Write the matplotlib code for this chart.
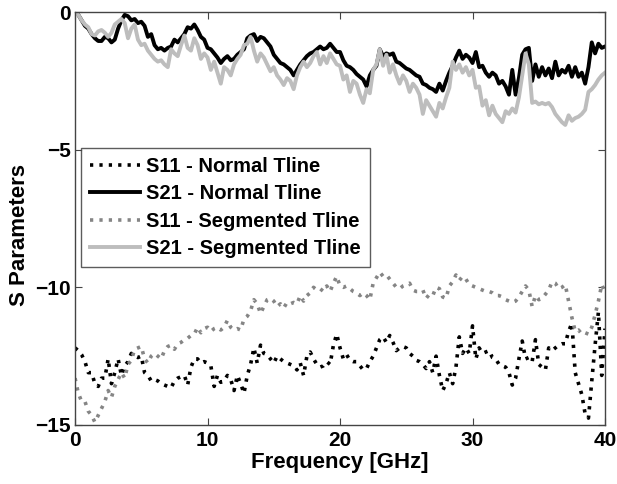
import numpy as np
import matplotlib
matplotlib.use('Agg')
import matplotlib.pyplot as plt

plt.rcParams['font.family'] = ['Liberation Sans', 'DejaVu Sans']
plt.rcParams['font.weight'] = 'bold'

# frequency grid, 0.25 GHz step
freq = np.arange(161) * 0.25

s21_normal = [
    0, -0.1, -0.3, -0.5, -0.6, -0.8, -0.95, -1.05, -1.05,
    -0.9, -0.95, -1.1, -1.0, -0.6, -0.3, -0.1, -0.15,
    -0.3, -0.25, -0.4, -0.35, -0.5, -0.9, -0.8, -1.2,
    -1.35, -1.3, -1.4, -1.3, -1.25, -1.0, -1.1, -0.95,
    -0.8, -0.55, -0.6, -0.45, -0.65, -0.9, -1.0, -1.3,
    -1.35, -1.5, -1.65, -1.85, -1.7, -1.6, -1.75, -1.7,
    -1.55, -1.45, -1.35, -0.95, -0.85, -0.8, -1.05, -0.9,
    -0.95, -1.1, -1.25, -1.55, -1.7, -1.85, -1.9, -2.0,
    -2.1, -2.3, -2.1, -1.9, -1.75, -1.6, -1.5, -1.45,
    -1.35, -1.25, -1.35, -1.3, -1.15, -1.3, -1.45, -1.45,
    -1.75, -1.95, -2.0, -2.1, -2.25, -2.35, -2.45, -2.7,
    -2.3, -2.1, -1.95, -1.35, -1.6, -1.5, -1.55, -1.5,
    -1.8, -1.85, -1.95, -2.05, -2.1, -2.2, -2.3, -2.35,
    -2.6, -2.65, -2.75, -2.8, -2.9, -2.6, -2.85, -2.5,
    -2.2, -1.95, -1.65, -1.4, -1.7, -1.55, -1.65, -1.85,
    -1.45, -2.0, -1.95, -2.2, -2.35, -2.2, -2.3, -2.6,
    -2.5, -2.7, -3.0, -2.1, -3.0, -2.4, -1.55, -1.35,
    -1.3, -2.5, -1.9, -2.35, -2.0, -2.3, -2.05, -2.4,
    -1.8, -2.3, -2.1, -2.2, -1.95, -2.35, -2.0, -2.35,
    -2.2, -2.6, -2.0, -1.1, -1.5, -1.15, -1.3, -1.25,
]

s21_segmented = [
    -0.05, -0.1, -0.3, -0.45, -0.55, -0.8, -0.85, -0.7, -0.65,
    -0.75, -0.9, -0.75, -0.45, -0.35, -0.25, -0.4, -0.95,
    -0.6, -0.45, -1.0, -1.2, -1.15, -1.4, -1.55, -1.7,
    -1.8, -1.75, -1.9, -2.0, -1.35, -1.5, -1.6, -1.2,
    -0.85, -1.3, -1.4, -0.95, -1.2, -1.7, -1.5, -1.65,
    -2.1, -1.8, -2.2, -2.6, -2.0, -2.1, -2.3, -1.9,
    -1.7, -1.55, -1.2, -1.15, -0.9, -1.4, -1.8, -1.5,
    -1.65, -1.9, -2.15, -2.0, -2.3, -2.45, -2.65, -2.4,
    -2.5, -2.8, -2.3, -2.0, -1.8, -2.0, -1.85, -1.6,
    -1.45, -1.9, -1.6, -1.85, -1.5, -1.7, -1.9, -1.95,
    -2.45, -2.3, -2.9, -2.5, -2.6, -3.0, -3.3, -2.8,
    -2.95, -2.1, -1.9, -1.35, -1.95, -1.55, -2.2, -1.9,
    -2.3, -2.6, -2.3, -2.5, -2.9, -2.6, -2.75, -3.0,
    -3.7, -3.2, -3.4, -3.6, -3.8, -3.3, -3.5, -3.1,
    -2.75, -1.8, -2.1, -1.9, -2.2, -2.0, -2.3, -2.1,
    -2.75, -2.7, -3.4, -3.2, -3.75, -3.4, -3.7, -3.85,
    -4.0, -3.6, -3.7, -3.5, -3.65, -3.1, -2.3, -1.5,
    -1.9, -3.3, -3.25, -3.35, -3.3, -3.35, -3.3, -3.45,
    -3.7, -3.85, -4.0, -4.1, -3.75, -3.95, -3.85, -3.8,
    -3.7, -3.55, -2.9, -2.8, -2.65, -2.45, -2.3, -2.2,
]

s11_normal = [
    -12.2, -12.3, -12.45, -12.7, -13.1, -13.1, -13.5, -13.6, -13.3,
    -13.3, -12.6, -13.5, -13.1, -12.6, -13.2, -12.85, -12.7,
    -12.4, -12.5, -12.55, -12.5, -13.1, -13.2, -13.4, -13.35,
    -13.4, -13.5, -13.55, -13.6, -13.65, -13.4, -13.3, -13.25,
    -13.2, -13.55, -12.9, -12.6, -12.6, -12.75, -12.7, -12.75,
    -12.85, -13.6, -13.2, -13.45, -13.4, -13.2, -13.35, -13.75,
    -13.2, -13.5, -13.85, -13.2, -12.8, -12.2, -12.75, -12.1,
    -12.4, -12.45, -12.6, -12.75, -12.5, -12.6, -12.7, -12.75,
    -12.8, -12.85, -13.0, -12.75, -13.2, -12.5, -12.35, -12.6,
    -12.8, -12.9, -12.85, -12.7, -12.8, -12.1, -11.7, -12.2,
    -12.6, -12.45, -12.65, -12.7, -12.7, -12.85, -13.0, -12.95,
    -12.7, -12.5, -12.2, -11.9, -11.8, -12.0, -11.75, -12.0,
    -12.3, -12.2, -12.15, -12.2, -12.4, -12.5, -12.65, -12.7,
    -12.8, -12.95, -12.7, -13.1, -12.5, -13.2, -13.75, -13.5,
    -13.1, -13.5, -12.9, -11.8, -12.4, -12.2, -12.4, -11.4,
    -12.6, -12.2, -12.4, -12.35, -12.3, -12.55, -12.6, -12.8,
    -12.85, -12.9, -13.1, -13.55, -13.3, -12.6, -11.95, -12.6,
    -12.55, -12.7, -11.9, -12.8, -12.9, -13.0, -12.2, -12.3,
    -12.2, -12.1, -12.05, -12.05, -11.6, -11.3, -13.1, -13.5,
    -13.9, -14.6, -14.75, -13.4, -12.1, -10.9, -13.2, -11.5,
]

s11_segmented = [
    -13.3, -13.85, -14.15, -14.15, -14.5, -14.65, -14.9, -14.65, -14.4,
    -14.15, -13.75, -14.0, -13.6, -13.35, -13.1, -13.3, -12.8,
    -12.65, -12.25, -12.2, -12.15, -12.6, -12.75, -12.5, -12.4,
    -12.5, -12.6, -12.3, -12.15, -12.1, -12.25, -12.05, -12.0,
    -11.9, -11.85, -11.75, -11.7, -11.45, -11.65, -11.5, -11.45,
    -11.6, -11.5, -11.45, -11.55, -11.45, -11.2, -11.45, -11.55,
    -11.5, -11.55, -11.15, -11.05, -10.85, -10.45, -10.6, -10.95,
    -10.7, -10.45, -10.4, -10.5, -10.7, -10.6, -10.75, -10.55,
    -10.6, -10.55, -10.6, -10.3, -10.5, -10.3, -10.2, -10.0,
    -10.1, -10.05, -10.15, -9.95, -10.15, -9.85, -9.6, -9.95,
    -10.0, -9.95, -10.05, -10.15, -10.2, -10.3, -10.2, -10.3,
    -10.45, -9.85, -9.65, -9.45, -9.6, -9.55, -9.7, -9.85,
    -10.0, -10.05, -9.95, -9.9, -9.85, -10.1, -10.15, -10.15,
    -10.1, -10.4, -10.25, -10.3, -10.0, -10.05, -10.35, -10.4,
    -9.95, -9.8, -9.55, -9.75, -9.6, -9.7, -9.9, -9.95,
    -10.0, -10.05, -10.1, -10.15, -10.15, -10.2, -10.3, -10.3,
    -10.35, -10.45, -10.5, -10.55, -10.5, -10.35, -10.15, -9.95,
    -10.1, -10.7, -10.3, -10.45, -10.4, -10.25, -10.1, -9.8,
    -9.85, -10.05, -10.0, -9.9, -10.5, -11.1, -11.6, -11.55,
    -11.7, -11.65, -11.7, -11.45, -11.0, -10.5, -9.9, -10.2,
]

labels = ['S11 - Normal Tline', 'S21 - Normal Tline',
          'S11 - Segmented Tline', 'S21 - Segmented Tline']

dots = (0.9, 1.7)

fig = plt.figure(figsize=(6.17, 4.84), dpi=100)
ax = fig.add_axes([0.1216, 0.122, 0.859, 0.853])

ax.plot(freq, s11_normal, color='black', lw=2.6, dashes=dots, label=labels[0])
ax.plot(freq, s21_normal, '-', color='black', lw=2.8, label=labels[1])
ax.plot(freq, s11_segmented, color='#858585', lw=2.6, dashes=dots, label=labels[2])
ax.plot(freq, s21_segmented, '-', color='#bdbdbd', lw=2.8, label=labels[3])

ax.set_xlim(0, 40)
ax.set_ylim(-15, 0)
ax.set_xticks([0, 10, 20, 30, 40])
ax.set_yticks([0, -5, -10, -15])
ax.tick_params(direction='in', top=True, right=True, labelsize=15, length=5,
               width=0.8, color='#444444')
ax.tick_params(axis='x', pad=4)
ax.tick_params(axis='y', pad=3)
for lab in ax.get_xticklabels() + ax.get_yticklabels():
    lab.set_fontweight('bold')
for sp in ax.spines.values():
    sp.set_color('#444444')
    sp.set_linewidth(1.0)

ax.set_xlabel('Frequency [GHz]', fontsize=16, fontweight='bold', labelpad=2)
ax.set_ylabel('S Parameters', fontsize=16, fontweight='bold')
ax.yaxis.set_label_coords(-0.085, 0.46)

leg = ax.legend(loc='upper left', bbox_to_anchor=(0.011, 0.671), fontsize=14.5,
                frameon=True, fancybox=False, handlelength=2.5,
                handletextpad=0.3, borderpad=0.45, labelspacing=0.42,
                borderaxespad=0)
leg.get_frame().set_edgecolor('#333333')
leg.get_frame().set_linewidth(1.0)
for t in leg.get_texts():
    t.set_fontweight('bold')

fig.savefig('out.png', dpi=100)
